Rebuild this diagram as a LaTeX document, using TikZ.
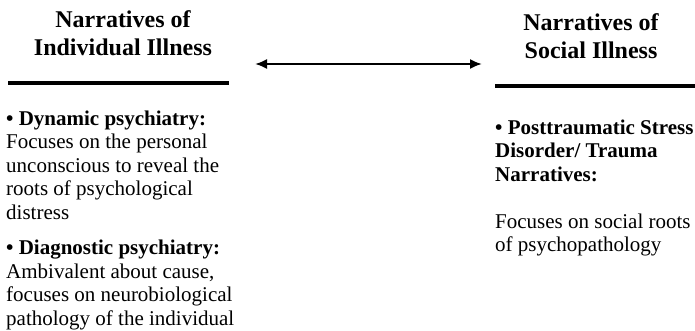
\documentclass[tikz,border=0pt]{standalone}
\usepackage{fontspec}
\setmainfont{Liberation Serif}
\usetikzlibrary{arrows.meta}

\begin{document}
\begin{tikzpicture}[x=1pt, y=-1pt,
  ttl/.style={font=\fontsize{24}{28}\selectfont\bfseries, align=center, inner sep=0pt, anchor=base},
  body/.style={font=\fontsize{21}{23.4}\selectfont, align=left, anchor=base west, inner sep=0pt},
  rule/.style={line width=4pt},
  arr/.style={{Latex[length=12pt,width=10pt]}-{Latex[length=12pt,width=10pt]}, line width=2pt}]
  \useasboundingbox (0,0) rectangle (695,330);
  % titles (anchored at the baseline of the last line)
  \node[ttl] (indiv) at (123,55) {Narratives of\\Individual Illness};
  \node[ttl] (social) at (591,58) {Narratives of\\Social Illness};
  % rules under the titles
  \coordinate (indivL) at (8,83);
  \coordinate (indivR) at (229,83);
  \coordinate (socialL) at (495,85.5);
  \coordinate (socialR) at (695,85.5);
  \draw[rule] (indivL) -- (indivR);
  \draw[rule] (socialL) -- (socialR);
  % two-way arrow
  \coordinate (arrL) at (255,64);
  \coordinate (arrR) at (482,64);
  \draw[arr] (arrL) -- (arrR);
  % left column
  \node[body] (dynamic) at (6,219) {\textbf{• Dynamic psychiatry:}\\Focuses on the personal\\unconscious to reveal the\\roots of psychological\\distress};
  \node[body] (diagnostic) at (6,325) {\textbf{• Diagnostic psychiatry:}\\Ambivalent about cause,\\focuses on neurobiological\\pathology of the individual};
  % right column
  \node[body] (ptsd) at (495,181) {\textbf{• Posttraumatic Stress}\\\textbf{Disorder/ Trauma}\\\textbf{Narratives:}};
  \node[body] (roots) at (495,251.5) {Focuses on social roots\\of psychopathology};
\end{tikzpicture}
\end{document}
